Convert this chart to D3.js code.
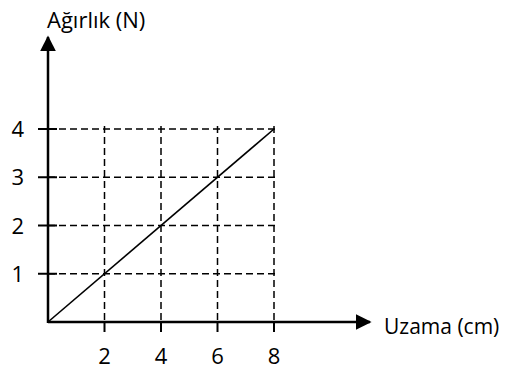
<!DOCTYPE html>
<html>
<head>
<meta charset="utf-8">
<script src="https://cdn.jsdelivr.net/npm/d3@7"></script>
<style>
  body { margin: 0; background: #fff; }
  text { font-family: "Open Sans", sans-serif; fill: #000; }
</style>
</head>
<body>
<div id="chart"></div>
<script>
// data
const xTicks = [2, 4, 6, 8];
const yTicks = [1, 2, 3, 4];
const lineX = [0, 8];
const lineY = [0, 4];
const xTitle = "Uzama (cm)";
const yTitle = "Ağırlık (N)";

const width = 512, height = 372;
const svg = d3.select("#chart").append("svg")
    .attr("width", width)
    .attr("height", height);

const x = d3.scaleLinear().domain([0, 8]).range([48, 274]);
const y = d3.scaleLinear().domain([0, 4]).range([322, 129]);

// dashed grid
svg.append("g").selectAll("line.h")
    .data(yTicks)
    .enter().append("line")
    .attr("x1", x(0)).attr("x2", x(8) + 4)
    .attr("y1", d => y(d)).attr("y2", d => y(d))
    .attr("stroke", "#000").attr("stroke-width", 1.5)
    .attr("stroke-dasharray", "7,4");

svg.append("g").selectAll("line.v")
    .data(xTicks)
    .enter().append("line")
    .attr("x1", d => x(d)).attr("x2", d => x(d))
    .attr("y1", y(4) - 3).attr("y2", y(0))
    .attr("stroke", "#000").attr("stroke-width", 1.5)
    .attr("stroke-dasharray", "7,4");

// the line
const pts = lineX.map((d, i) => [d, lineY[i]]);
svg.append("path")
    .datum(pts)
    .attr("fill", "none")
    .attr("stroke", "#000")
    .attr("stroke-width", 1.6)
    .attr("d", d3.line().x(d => x(d[0])).y(d => y(d[1])));

// axes with arrows
svg.append("defs").append("marker")
    .attr("id", "arr")
    .attr("viewBox", "0 0 10 10")
    .attr("refX", 9).attr("refY", 5)
    .attr("markerUnits", "userSpaceOnUse")
    .attr("markerWidth", 16).attr("markerHeight", 16)
    .attr("orient", "auto")
    .append("path")
    .attr("d", "M0,0L10,5L0,10Z")
    .attr("fill", "#000");

svg.append("line")
    .attr("x1", x(0)).attr("y1", y(0))
    .attr("x2", 370).attr("y2", y(0))
    .attr("stroke", "#000").attr("stroke-width", 2.5)
    .attr("marker-end", "url(#arr)");

svg.append("line")
    .attr("x1", x(0)).attr("y1", y(0) + 1)
    .attr("x2", x(0)).attr("y2", 37)
    .attr("stroke", "#000").attr("stroke-width", 2.5)
    .attr("marker-end", "url(#arr)");

// ticks
svg.append("g").selectAll("line")
    .data(xTicks)
    .enter().append("line")
    .attr("x1", d => x(d)).attr("x2", d => x(d))
    .attr("y1", y(0)).attr("y2", y(0) + 10)
    .attr("stroke", "#000").attr("stroke-width", 2);

svg.append("g").selectAll("line")
    .data(yTicks)
    .enter().append("line")
    .attr("x1", x(0) - 10).attr("x2", x(0) + 9)
    .attr("y1", d => y(d)).attr("y2", d => y(d))
    .attr("stroke", "#000").attr("stroke-width", 2);

// tick labels
svg.append("g").selectAll("text")
    .data(xTicks)
    .enter().append("text")
    .attr("x", d => x(d))
    .attr("y", 364)
    .attr("text-anchor", "middle")
    .style("font-size", "22px")
    .text(d => d);

svg.append("g").selectAll("text")
    .data(yTicks)
    .enter().append("text")
    .attr("x", 24)
    .attr("y", d => y(d) + 8)
    .attr("text-anchor", "end")
    .style("font-size", "22px")
    .text(d => d);

// axis titles
svg.append("text")
    .attr("x", 47).attr("y", 28)
    .style("font-size", "22px")
    .text(yTitle);

svg.append("text")
    .attr("x", 384).attr("y", 334)
    .style("font-size", "21px")
    .text(xTitle);
</script>
</body>
</html>
